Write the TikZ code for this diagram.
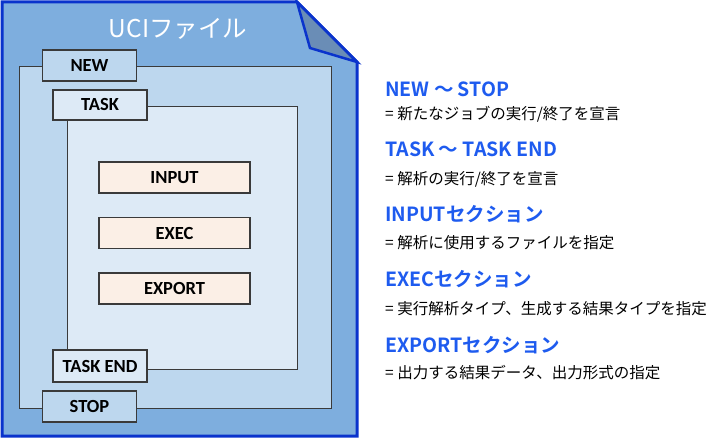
\documentclass[tikz,border=0pt]{standalone}
\usepackage{fontspec}
\setmainfont{Noto Sans CJK JP}[BoldFont=Noto Sans CJK JP Bold]
\newfontfamily\cjk{Noto Sans CJK JP}[BoldFont=Noto Sans CJK JP Bold]
\newfontfamily\lat{Carlito}
\definecolor{docfill}{HTML}{7EAEDE}
\definecolor{docedge}{HTML}{0A33CC}
\definecolor{foldfill}{HTML}{6A8DB6}
\definecolor{frameA}{HTML}{BDD7EE}
\definecolor{frameB}{HTML}{DDEAF6}
\definecolor{peach}{HTML}{FBEFE6}
\definecolor{edge}{HTML}{3A3A3A}
\definecolor{headblue}{HTML}{1E5BEF}
\tikzset{
  frame/.style={draw=edge, line width=1.3pt, inner sep=0pt, anchor=north west},
  tag/.style={draw=edge, line width=1.3pt, inner sep=0pt, minimum width=94pt, font=\lat\bfseries\fontsize{18.5}{20}\selectfont},
  sect/.style={draw=edge, line width=1.3pt, inner sep=0pt, fill=peach, minimum width=151pt, minimum height=31pt, font=\lat\bfseries\fontsize{18.5}{20}\selectfont},
  head/.style={anchor=west, inner sep=0pt, text=headblue, font=\bfseries\fontsize{19.5}{21}\selectfont},
  desc/.style={anchor=west, inner sep=0pt, text=black, font=\fontsize{15.5}{18}\selectfont},
}
\begin{document}
\begin{tikzpicture}[x=1pt,y=-1pt]
\useasboundingbox (0,0) rectangle (710,438);
% document shape
\draw[fill=docfill, draw=docedge, line width=3pt, line join=miter]
  (2,2) -- (297,2) -- (357,62) -- (357,436) -- (2,436) -- cycle;
\draw[fill=foldfill, draw=docedge, line width=2.5pt, line join=miter]
  (297,2) -- (310,48) -- (357,62) -- cycle;
\node[inner sep=0pt, text=white, font=\fontsize{24.5}{26}\selectfont] (title) at (178,29) {UCIファイル};
% NEW frame
\node[frame, fill=frameA, minimum width=312pt, minimum height=342pt] (newframe) at (19,66) {};
\node[tag, fill=frameA, minimum height=31pt] (new) at (89.5,65.5) {NEW};
\node[tag, fill=frameA, minimum height=31pt] (stop) at (89.5,406.5) {STOP};
% TASK frame
\node[frame, fill=frameB, minimum width=230pt, minimum height=263pt] (taskframe) at (67,106) {};
\node[tag, fill=frameB, minimum height=30pt] (task) at (100,105) {TASK};
\node[tag, fill=frameB, minimum height=32pt] (taskend) at (100,366) {TASK END};
% sections
\node[sect] (input) at (174.5,177.5) {INPUT};
\node[sect] (exec) at (174.5,233) {EXEC};
\node[sect] (export) at (174.5,288.5) {EXPORT};
% right text
\node[head] (h1) at (385,89) {NEW ～ STOP};
\node[desc] (d1) at (385,114) {= 新たなジョブの実行/終了を宣言};
\node[head] (h2) at (385,149) {TASK ～ TASK END};
\node[desc] (d2) at (385,179) {= 解析の実行/終了を宣言};
\node[head] (h3) at (385,214) {INPUTセクション};
\node[desc] (d3) at (385,243) {= 解析に使用するファイルを指定};
\node[head] (h4) at (385,279) {EXECセクション};
\node[desc] (d4) at (385,309) {= 実行解析タイプ、生成する結果タイプを指定};
\node[head] (h5) at (385,345) {EXPORTセクション};
\node[desc] (d5) at (385,373) {= 出力する結果データ、出力形式の指定};
\end{tikzpicture}
\end{document}
